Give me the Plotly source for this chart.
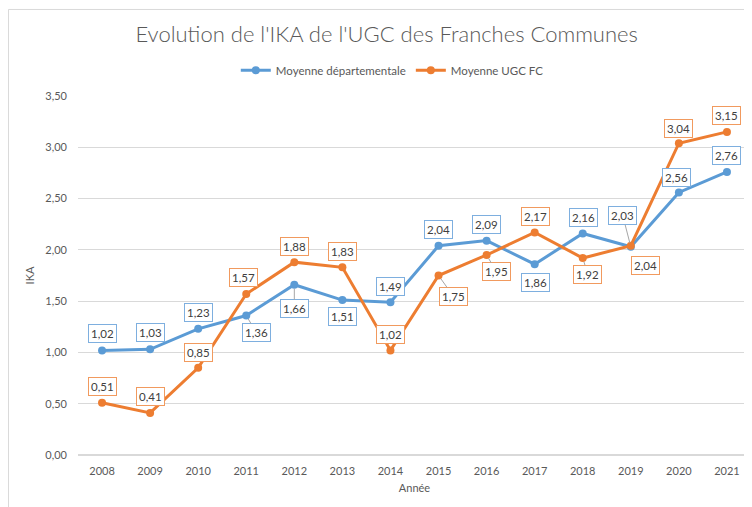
import plotly.graph_objects as go

years = ["2008", "2009", "2010", "2011", "2012", "2013", "2014",
         "2015", "2016", "2017", "2018", "2019", "2020", "2021"]
dept = [1.02, 1.03, 1.23, 1.36, 1.66, 1.51, 1.49, 2.04, 2.09, 1.86, 2.16, 2.03, 2.56, 2.76]
ugc = [0.51, 0.41, 0.85, 1.57, 1.88, 1.83, 1.02, 1.75, 1.95, 2.17, 1.92, 2.04, 3.04, 3.15]

# label offsets in pixels (dx, dy, leader line shown)
dept_off = [(0, -17, 0), (0, -17, 0), (0, -16, 0), (10, 17, 1), (0, 24, 1), (0, 16, 0),
            (0, -16, 0), (0, -16, 0), (0, -16, 0), (1, 18, 0), (1, -16, 0), (-8, -31, 1),
            (-2, -15, 0), (0, -16, 0)]
ugc_off = [(0, -16, 0), (0, -16, 0), (0, -15, 0), (-3, -16, 0), (0, -16, 0), (0, -16, 0),
           (0, -16, 0), (15, 21, 1), (10, 17, 1), (1, -16, 0), (5, 16, 1), (15, 20, 1),
           (0, -15, 0), (0, -16, 0)]

BLUE = "#5B9BD5"
ORANGE = "#ED7D31"
BLUE_BOX = "#7EAFDF"
ORANGE_BOX = "#F19A5E"
GRAY = "#595959"
FONT = "Lato"

def fmt(v):
    return f"{v:.2f}".replace(".", ",")

fig = go.Figure()
fig.add_trace(go.Scatter(x=years, y=dept, mode="lines+markers", name="Moyenne départementale",
                         line=dict(color=BLUE, width=3), marker=dict(size=8, color=BLUE)))
fig.add_trace(go.Scatter(x=years, y=ugc, mode="lines+markers", name="Moyenne UGC FC",
                         line=dict(color=ORANGE, width=3), marker=dict(size=8, color=ORANGE)))

annotations = []
for vals, offs, col in ((dept, dept_off, BLUE_BOX), (ugc, ugc_off, ORANGE_BOX)):
    for i, (v, (dx, dy, lead)) in enumerate(zip(vals, offs)):
        annotations.append(dict(
            x=i, y=v, xref="x", yref="y", text=fmt(v),
            showarrow=True, ax=dx, ay=dy, axref="pixel", ayref="pixel",
            arrowhead=0, arrowwidth=1,
            arrowcolor="#A6A6A6" if lead else "rgba(0,0,0,0)",
            standoff=4,
            font=dict(family=FONT, size=11.5, color="#404040"),
            bgcolor="white", bordercolor=col, borderwidth=1, borderpad=2,
        ))

fig.update_layout(
    width=744, height=499,
    margin=dict(l=70, r=1, t=88, b=52),
    paper_bgcolor="white", plot_bgcolor="white",
    separators=",.",
    title=dict(text="Evolution de l'IKA de l'UGC des Franches Communes",
               x=0.509, xanchor="center", y=0.948, yanchor="middle",
               font=dict(family=FONT, size=22, color=GRAY, weight=300)),
    legend=dict(orientation="h", x=0.467, xanchor="center", y=1.072, yanchor="middle",
                font=dict(family=FONT, size=11.5, color=GRAY), itemwidth=30,
                bgcolor="rgba(0,0,0,0)"),
    xaxis=dict(type="category", range=[-0.5, 13.5], showgrid=False, showline=False,
               ticks="", ticklabelstandoff=8, tickfont=dict(family=FONT, size=11, color=GRAY),
               title=dict(text="Année", font=dict(family=FONT, size=11, color=GRAY), standoff=8),
               zeroline=False),
    yaxis=dict(range=[0, 3.5], dtick=0.5, tickformat=".2f", showgrid=True,
               gridcolor="#D9D9D9", gridwidth=1, zeroline=True, zerolinecolor="#D9D9D9",
               showline=False, ticks="", ticklabelstandoff=10,
               tickfont=dict(family=FONT, size=11, color=GRAY),
               title=dict(text="IKA", font=dict(family=FONT, size=11, color=GRAY), standoff=8)),
    annotations=annotations,
    shapes=[dict(type="rect", xref="paper", yref="paper", x0=-0.1033, x1=1.1, y0=-0.3, y1=1.241,
                 line=dict(color="#D9D9D9", width=1), fillcolor="rgba(0,0,0,0)", layer="below")],
)

fig.write_html("out.html")
